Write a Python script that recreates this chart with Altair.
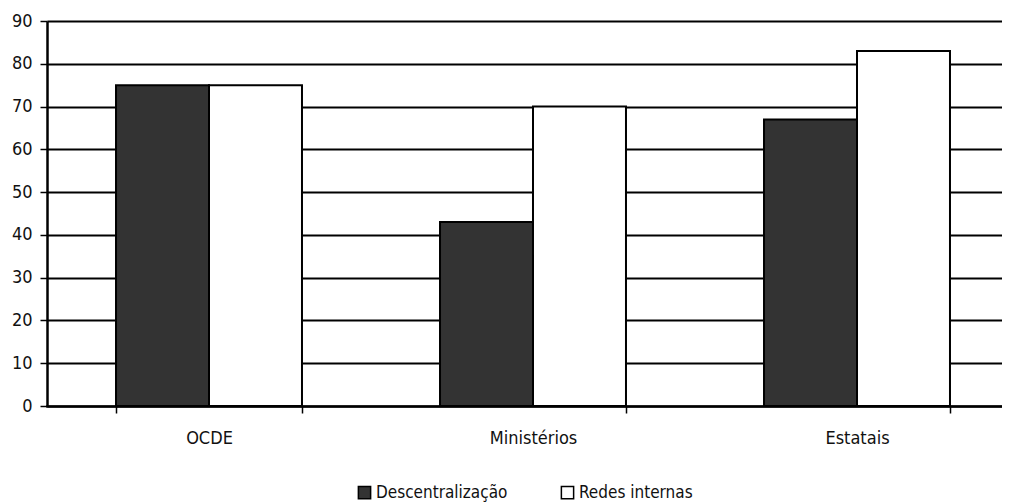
import altair as alt
import pandas as pd

categories = ["OCDE", "Ministérios", "Estatais"]
series = ["Descentralização", "Redes internas"]
descentralizacao = [75, 43, 67]
redes_internas = [75, 70, 83]

rows = []
for i, c in enumerate(categories):
    rows.append({"cat": c, "serie": series[0], "valor": descentralizacao[i]})
    rows.append({"cat": c, "serie": series[1], "valor": redes_internas[i]})
df = pd.DataFrame(rows)

FONT = "DejaVu Sans Condensed"

chart = alt.Chart(df).mark_bar(stroke="black", strokeWidth=2).encode(
    x=alt.X("cat:N", sort=categories, title=None,
            scale=alt.Scale(paddingInner=0.426, paddingOuter=0.213),
            axis=alt.Axis(labelAngle=0, tickBand="extent", tickSize=7, tickWidth=1.5,
                          tickColor="black", domainColor="black", domainWidth=2.5,
                          labelFont=FONT, labelFontSize=18, labelColor="#111",
                          labelPadding=16, grid=False)),
    xOffset=alt.XOffset("serie:N", sort=series),
    y=alt.Y("valor:Q", title=None,
            scale=alt.Scale(domain=[0, 90]),
            axis=alt.Axis(values=list(range(0, 100, 10)), tickSize=7, tickWidth=1.5,
                          tickColor="black", domainColor="black", domainWidth=2.5,
                          gridColor="black", gridWidth=2, gridOpacity=1,
                          labelFont=FONT, labelFontSize=18, labelColor="#111",
                          labelPadding=8)),
    fill=alt.Fill("serie:N", sort=series,
                  scale=alt.Scale(domain=series, range=["#333333", "#ffffff"]),
                  legend=alt.Legend(title=None, orient="none", direction="horizontal",
                                    legendX=309, legendY=463,
                                    symbolType="square", symbolSize=150,
                                    symbolStrokeColor="black", symbolStrokeWidth=1.5,
                                    symbolOpacity=1,
                                    labelFont=FONT, labelFontSize=17, labelColor="#111",
                                    labelOffset=3, columnPadding=50)),
).properties(
    width=972, height=385,
    padding={"left": 3, "top": 4, "right": -17, "bottom": 0},
).configure_view(stroke=None).configure_axisX(domainCap="square")

chart.save("out.html", embed_options={"renderer": "svg", "actions": False})
